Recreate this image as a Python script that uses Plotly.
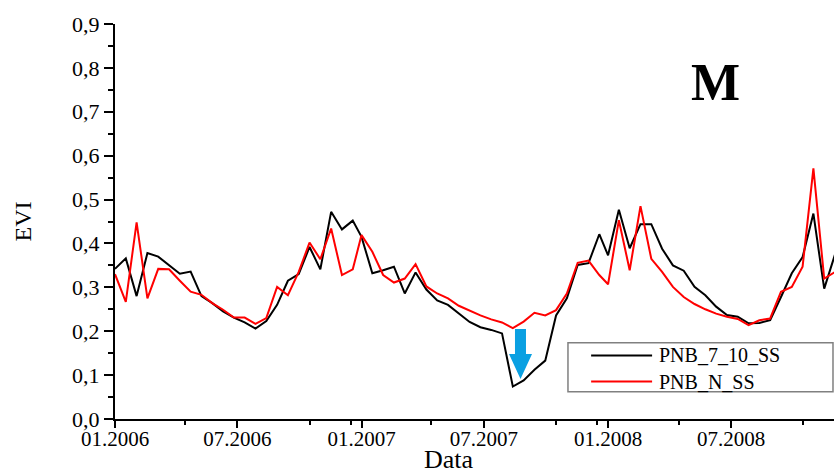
import datetime as dt
import plotly.graph_objects as go

# 16-day composite start days (day of year) for each year
composite_doy = [1, 17, 33, 49, 65, 81, 97, 113, 129, 145, 161, 177, 193,
                 209, 225, 241, 257, 273, 289, 305, 321, 337, 353]
years = [2006, 2007, 2008]
points_per_year = [23, 23, 22]

dates = []
for yr, n in zip(years, points_per_year):
    for d in composite_doy[:n]:
        dates.append(dt.date(yr, 1, 1) + dt.timedelta(days=d - 1))

black_2006 = [0.342, 0.366, 0.280, 0.378, 0.370, 0.351, 0.331, 0.336, 0.280, 0.264, 0.245, 0.231,
              0.220, 0.206, 0.223, 0.260, 0.315, 0.330, 0.392, 0.341, 0.472, 0.432, 0.452]
black_2007 = [0.415, 0.332, 0.339, 0.347, 0.286, 0.334, 0.295, 0.270, 0.260, 0.241, 0.221, 0.209,
              0.203, 0.195, 0.074, 0.088, 0.112, 0.133, 0.236, 0.275, 0.351, 0.355, 0.421]
black_2008 = [0.373, 0.477, 0.389, 0.444, 0.444, 0.388, 0.350, 0.338, 0.301, 0.282, 0.256, 0.237,
              0.233, 0.218, 0.219, 0.225, 0.278, 0.332, 0.369, 0.468, 0.297, 0.375]

red_2006 = [0.330, 0.267, 0.448, 0.275, 0.342, 0.341, 0.315, 0.290, 0.283, 0.264, 0.249, 0.231,
            0.231, 0.217, 0.230, 0.301, 0.282, 0.335, 0.402, 0.364, 0.434, 0.328, 0.341]
red_2007 = [0.419, 0.381, 0.328, 0.311, 0.320, 0.353, 0.302, 0.286, 0.275, 0.258, 0.247, 0.236,
            0.227, 0.220, 0.207, 0.222, 0.242, 0.236, 0.248, 0.286, 0.356, 0.361, 0.328]
red_2008 = [0.307, 0.453, 0.339, 0.485, 0.365, 0.335, 0.301, 0.278, 0.262, 0.250, 0.240, 0.233,
            0.228, 0.214, 0.225, 0.229, 0.290, 0.301, 0.347, 0.571, 0.320, 0.335]

pnb_7_10_ss = black_2006 + black_2007 + black_2008
pnb_n_ss = red_2006 + red_2007 + red_2008

series_names = ["PNB_7_10_SS", "PNB_N_SS"]
series_colors = ["#000000", "#ff0000"]

minor_x_ticks = ["2006-04-15", "2006-10-16", "2006-12-17", "2007-04-14",
                 "2007-10-16", "2007-12-16", "2008-04-15", "2008-10-16"]

FONT = "Liberation Serif, Times New Roman, serif"

fig = go.Figure()
for name, vals, col in zip(series_names, [pnb_7_10_ss, pnb_n_ss], series_colors):
    fig.add_trace(go.Scatter(x=dates, y=vals, mode="lines", name=name,
                             line=dict(color=col, width=2), showlegend=False))

# blue arrow marking the drop (paper coordinates)
fig.add_shape(type="path", xref="paper", yref="paper",
              path="M 0.5563 0.2278 L 0.5716 0.2278 L 0.5716 0.1646 L 0.5800 0.1646 "
                   "L 0.5640 0.1013 L 0.5480 0.1646 L 0.5563 0.1646 Z",
              fillcolor="#0aa0e2", line=dict(width=0))

# legend box (drawn manually to match the framed legend)
fig.add_shape(type="rect", xref="paper", yref="paper", x0=0.630, x1=0.9986, y0=0.0691, y1=0.1932,
              fillcolor="white", line=dict(color="#808080", width=1.5))
for name, col, ly in zip(series_names, series_colors, [0.1608, 0.0949]):
    fig.add_shape(type="line", xref="paper", yref="paper", x0=0.6622, x1=0.7470, y0=ly, y1=ly,
                  line=dict(color=col, width=2))
    fig.add_annotation(text=name, x=0.7552, y=ly, xref="paper", yref="paper",
                       xanchor="left", yanchor="middle", showarrow=False, borderpad=0,
                       font=dict(family=FONT, size=20, color="black"))

fig.add_annotation(text="<b>M</b>", x=0.8345, y=0.853, xref="paper", yref="paper",
                   xanchor="center", yanchor="middle",
                   showarrow=False, font=dict(family=FONT, size=52, color="black"))
fig.add_annotation(text="Data", x=0.4645, y=-0.1418, xref="paper", yref="paper",
                   xanchor="center", yanchor="bottom", showarrow=False, borderpad=0,
                   font=dict(family=FONT, size=26, color="black"))

fig.update_layout(
    width=834, height=475,
    margin=dict(l=115, r=0, t=24, b=56),
    paper_bgcolor="white", plot_bgcolor="white",
    separators=", ",
    font=dict(family=FONT, size=21, color="black"),
    showlegend=False,
    xaxis=dict(type="date", range=["2006-01-01", "2008-11-30 12:00"],
               tickmode="linear", tick0="2006-01-01", dtick="M6", tickformat="%m.%Y",
               ticks="outside", ticklen=7, tickwidth=2, tickcolor="black",
               showline=True, linecolor="black", linewidth=2,
               showgrid=False, zeroline=False, ticklabelstandoff=-7,
               tickfont=dict(family=FONT, size=21),
               minor=dict(tickmode="array", tickvals=minor_x_ticks, ticks="outside",
                          ticklen=4, tickwidth=1.5, tickcolor="black", showgrid=False)),
    yaxis=dict(range=[0, 0.9], tickmode="linear", tick0=0, dtick=0.1, tickformat=".1f",
               ticks="outside", ticklen=9, tickwidth=2, tickcolor="black",
               showline=True, linecolor="black", linewidth=2,
               showgrid=False, zeroline=False,
               tickfont=dict(family=FONT, size=22),
               title=dict(text="EVI", font=dict(family=FONT, size=24), standoff=34),
               minor=dict(dtick=0.05, ticks="outside", ticklen=5, tickwidth=1.5,
                          tickcolor="black", showgrid=False)),
)

fig.write_html("out.html", post_script="document.body.style.margin='0px';",
               config={"displayModeBar": False})
